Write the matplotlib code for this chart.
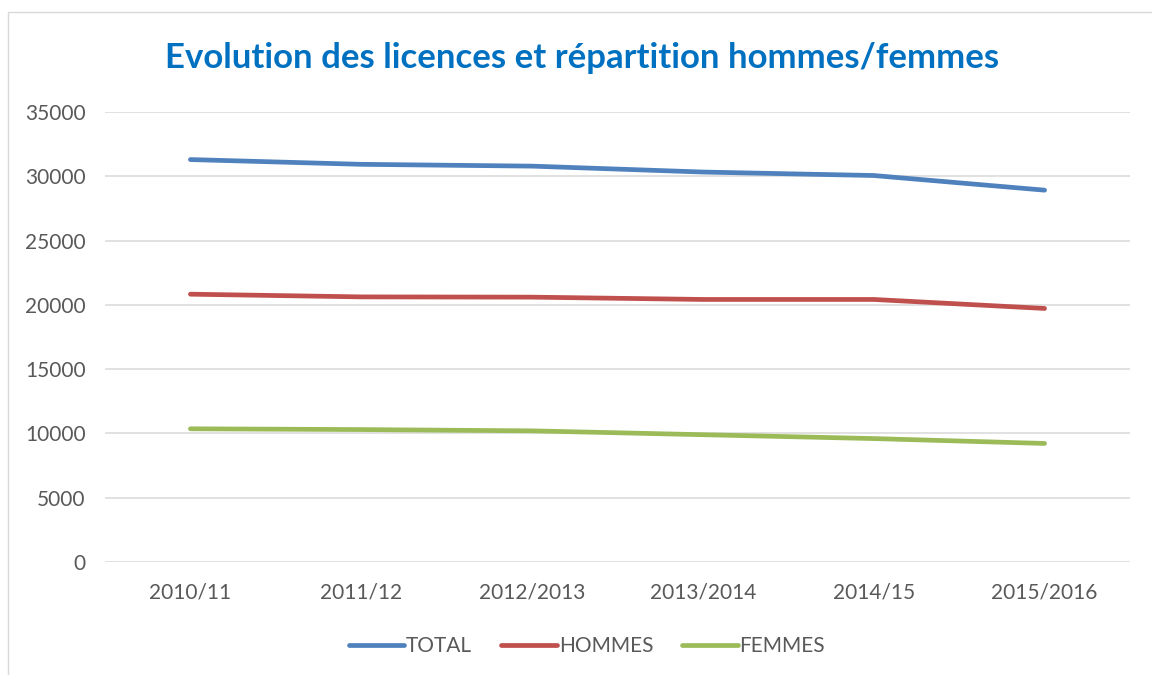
import matplotlib
matplotlib.use("Agg")
import matplotlib.pyplot as plt
from matplotlib.patches import Rectangle

# data
seasons = ["2010/11", "2011/12", "2012/2013", "2013/2014", "2014/15", "2015/2016"]
total = [31300, 30930, 30790, 30330, 30060, 28920]
hommes = [20830, 20620, 20600, 20420, 20420, 19720]
femmes = [10360, 10300, 10200, 9900, 9600, 9220]

series_names = ["TOTAL", "HOMMES", "FEMMES"]
series_colors = ["#4F81BD", "#C0504D", "#9BBB59"]

plt.rcParams['font.family'] = ['Lato', 'DejaVu Sans']

W, H = 1152, 675
fig = plt.figure(figsize=(W / 100, H / 100), dpi=100)
ax = fig.add_axes([105 / W, 1 - 562 / H, (1130 - 105) / W, (562 - 112) / H])

x = list(range(len(seasons)))
for name, vals, col in zip(series_names, [total, hommes, femmes], series_colors):
    ax.plot(x, vals, color=col, lw=3.4, solid_capstyle='round',
            solid_joinstyle='round', label=name)

ax.set_xlim(-0.5, len(seasons) - 0.5)
ax.set_ylim(0, 35000)
ax.set_yticks(range(0, 35001, 5000))
ax.set_xticks(x)
ax.set_xticklabels(seasons)
ax.grid(axis='y', color='#D9D9D9', lw=1.1)
ax.set_axisbelow(True)
for s in ax.spines.values():
    s.set_visible(False)
ax.tick_params(axis='both', length=0, labelsize=15, labelcolor='#595959')
ax.tick_params(axis='y', pad=14)
ax.tick_params(axis='x', pad=15)

fig.text(582 / W, 1 - 58 / H, "Evolution des licences et répartition hommes/femmes",
         ha='center', va='center', fontsize=25, fontweight='bold', color='#0070C0')

leg = fig.legend(loc='center', bbox_to_anchor=(587 / W, 1 - 646 / H), ncol=3,
                 frameon=False, fontsize=15, handlelength=2.65, handletextpad=0.1,
                 columnspacing=1.4)
for t in leg.get_texts():
    t.set_color('#595959')

# outer chart frame
fig.patches.append(Rectangle((8 / W, -0.05), 1.2, 1 - 12 / H + 0.05,
                             transform=fig.transFigure, fill=False,
                             edgecolor='#D9D9D9', lw=1.0))

fig.savefig("out.png", dpi=100, facecolor='white')
